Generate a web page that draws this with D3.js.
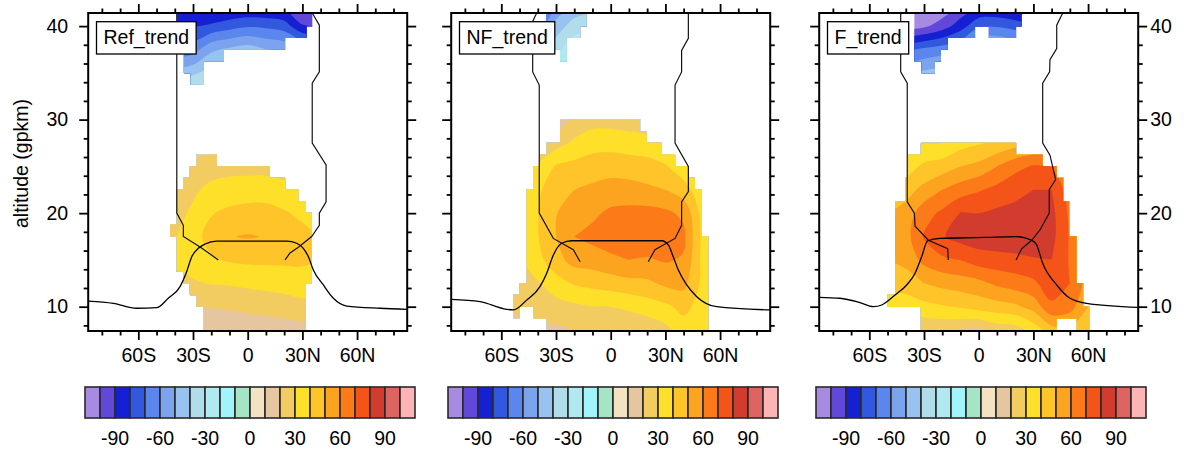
<!DOCTYPE html>
<html><head><meta charset="utf-8">
<script src="https://cdn.jsdelivr.net/npm/d3@7"></script>
<style>
html,body{margin:0;padding:0;background:#fff;}
svg{display:block;}
text{font-family:"Liberation Sans",Arial,Helvetica,sans-serif;}
</style></head><body>
<svg id="chart" width="1194" height="452"></svg>
<script>
const _ = null;
// grid of the trend fields (latitude columns, altitude rows from bottom to top)
const gridLats = [-60,-50,-40,-30,-20,-10,0,10,20,30,40,50,60,70];
const gridAlts = [7.5,10,12.5,15,17.5,20,22.5,25,27.5,30,32.5,35,37.5,40,42.5];

const refTrend = [
 [_, _, 10, 11, 12, 12.5, 13, 14, 15, 16, 17, _, _, _],
 [_, _, 18, 19.5, 20.5, 21.5, 23, 24, 25, 27, 26, _, _, _],
 [_, _, 27, 29, 30.5, 31, 32, 33, 34, 35, 34, _, _, _],
 [_, _, 32, 34, 39, 41, 42, 42, 42, 42, 40, _, _, _],
 [_, _, 29, 37, 43, 49.5, 50.8, 49.5, 46, 43, 40, _, _, _],
 [_, _, 26, 32, 39.5, 42, 43, 43, 41, 38, 35, _, _, _],
 [_, _, 23, 28, 33, 35, 36, 36, 34, 30, 26, _, _, _],
 [_, _, 20, 23, 25, 26, 26, 26, 24, 22, 20, _, _, _],
 [_, _, 14, 14, 16, 20, 21, 20, 18, 16, 15, _, _, _],
 [_, _, _, _, _, _, _, _, _, _, _, _, _, _],
 [_, _, -28, -22, -20, -12, -5, -5, -10, -20, -25, _, _, _],
 [_, _, -45, -42, -36, -30, -25, -25, -30, -38, -42, _, _, _],
 [_, _, -68, -65, -52, -48, -45, -50, -52, -58, -62, _, _, _],
 [_, _, -83, -81, -78, -74, -71, -72, -75, -89, -90, _, _, _],
 [_, _, -95, -95, -97, -96, -95, -95, -96, -104, -104, _, _, _]
];
const nfTrend = [
 [15, 17, 18, 18, 20.5, 20, 21, 22, 23, 27, 35, 32, 28, _],
 [18, 22, 24, 26, 28, 30, 30, 32, 35, 38, 43, 36, 30, _],
 [20, 25, 29, 36, 41, 43, 45, 47, 48, 52, 53, 38, 31, _],
 [24, 29, 37, 46, 54, 55, 58, 60, 59, 61, 59, 38, 31, _],
 [26, 31, 39.5, 50, 60, 63, 65, 66, 67, 67, 62, 38, 31, _],
 [25, 31, 39.5, 49.5, 56, 58, 62, 63, 63.5, 62, 58, 37, 30, _],
 [22, 29, 38.5, 45, 50, 52, 54, 54, 52, 50, 44, 34, 28, _],
 [_, 26, 31, 41, 43, 45, 46, 45, 44, 41, 34, 30, _, _],
 [_, _, 24, 26, 32, 36, 36, 35, 34, 30, 24, _, _, _],
 [_, _, 15, 13, 22, 26, 26, 25, 23, 20, _, _, _, _],
 [_, _, _, _, _, _, _, _, _, _, _, _, _, _],
 [_, _, -25, -18, -12, -8, -5, _, _, _, _, _, _, _],
 [_, _, -45, -33, -22, -18, -15, _, _, _, _, _, _, _],
 [_, _, -68, -46, -35, -32, -25, _, _, _, _, _, _, _],
 [_, _, -85, -60, -50, -45, -35, _, _, _, _, _, _, _]
];
const fTrend = [
 [18, 22, 22, 22, 22, 20, 18, 24, 25, 34, 46, 48, 42, 35],
 [25, 32, 34, 37, 39, 41, 44, 46, 48, 54, 68, 64, 50, 40],
 [32, 43, 45, 50, 53, 55, 57, 62, 65, 68, 76, 70, 56, 43],
 [38, 50, 53, 63, 68, 70, 75, 76, 77, 79, 80, 69, 58, 44],
 [40, 52, 56, 71, 79, 84, 86, 87, 88, 88, 83, 69, 57, 44],
 [38, 50, 54, 66, 72, 80.5, 80, 82, 83, 85, 83, 68, 55, _],
 [32, 42, 46, 53, 60, 65, 69, 73, 77, 80, 80, 65, 52, _],
 [_, 32, 35, 42, 45, 50, 53, 60, 67, 71, 70, 58, _, _],
 [_, _, 25, 30, 30, 36, 39, 42, 46, 50, 52, _, _, _],
 [_, _, _, 20, 22, 26, 28, 30, 32, 32, _, _, _, _],
 [_, _, -32, -30, -28, -22, -20, -20, -22, -25, -28, _, _, _],
 [_, _, -52, -48, -45, -40, -25, -25, -28, -35, -40, _, _, _],
 [_, _, -72, -68, -65, -60, -45, -45, -50, -55, -60, _, _, _],
 [_, _, -105, -102, -95, -85, -72, -71, -74, -78, -80, _, _, _],
 [_, _, -125, -120, -110, -100, -95, -95, -98, -100, -100, _, _, _]
];

// regions where the trend is shown: [altLow, altHigh, latLow, latHigh]
const refMask = [
 [40,41.5,-38.6,35.4],[38.75,40,-35,32.4],[37.5,38.75,-35,20.5],[36.25,37.5,-35,-13],
 [35,36.25,-35,-24],[33.75,35,-31.3,-24],
 [25,26.25,-28,-17],[23.75,25,-31.7,12.2],[22.5,23.75,-35.3,20.5],[21.25,22.5,-38.9,27.8],
 [20,21.25,-38.9,32],[18.75,20,-38.9,35.1],[17.5,18.75,-42.6,35.1],[13.75,17.5,-38.9,35.1],
 [12.5,13.75,-35.3,35.1],[11.25,12.5,-31.7,32],[10,11.25,-28,32],[7,10,-24.4,32]
];
const nfMask = [
 [40,41.5,-35.5,-13.2],[38.75,40,-34,-16.8],[37.5,38.75,-30.6,-24.1],[36.25,37.5,-27.8,-24.1],
 [28.75,30,-27.8,16.1],[27.5,28.75,-27.8,19.7],[26.25,27.5,-35.1,28],[25,26.25,-38.8,35.3],
 [23.75,25,-42.5,42.6],[22.5,23.75,-42.5,46.2],[17.5,22.5,-46.1,49.9],[12.5,17.5,-46.1,53.5],
 [11.25,12.5,-49.8,53.5],[10,11.25,-53.4,53.5],[8.75,10,-53.4,-49.8],[8.75,10,-42.5,53.5],
 [7,8.75,-35.1,53.5]
];
const fMask = [
 [40,41.5,-35.3,23.6],[38.75,40,-35.3,-2],[38.75,40,5.6,20.5],[37.5,38.75,-35.3,-17],
 [36.25,37.5,-35.3,-20.7],[35,36.25,-31.3,-24],
 [26.25,27.5,-31.7,20.5],[25,26.25,-38.6,35.1],[23.75,25,-38.6,42.8],[21.25,23.75,-40,46.4],
 [17.5,21.25,-45.9,49.7],[12.5,17.5,-45.9,53.7],[11.25,12.5,-45.9,57.4],[10,11.25,-50.1,57.4],
 [8.75,10,-31.8,61],[7,8.75,-31.8,42.8],[7,8.75,53.8,61]
];

// overlaid lines: [lat, altitude]
const refTropo = [[-87.5,10.6],[-73.7,10.36],[-60.9,9.83],[-49.9,9.89],[-43.6,10.9],[-37.1,12.14],[-33.8,13.57],[-30.7,15.34],[-27.1,16.24],[-23.4,16.7],[-17,17.02],[21.4,17.02],[26.9,16.78],[30.5,16.24],[33.3,15.34],[36,13.92],[41.5,12.32],[47,10.9],[54.3,10.07],[72.6,9.83],[87.5,9.72]];
const refLeft = [[-38.9,41.4],[-38.9,20.0],[-35.3,18.7],[-35.3,17.5],[-25.5,16.3],[-16.1,15.0]];
const refRight = [[35.4,41.4],[39.3,40.1],[39.3,35.1],[35.4,33.9],[35.4,27.5],[43,25.15],[43,21.2],[39.3,20.0],[39.3,18.7],[35.1,17.5],[27.8,16.35],[23.2,15.75],[20.5,15.0]];
const nfTropo = [[-87.5,10.79],[-71.7,10.54],[-57.1,9.72],[-53.4,9.65],[-46.1,10.7],[-38.8,12.14],[-35.1,13.57],[-31.5,15.5],[-26.9,16.78],[-21.4,17.05],[28,17.05],[31.6,16.6],[34.3,15.34],[37.1,13.92],[41.7,12.32],[47.2,11.07],[58.1,10.0],[87.5,9.65]];
const nfLeft = [[-40.6,41.4],[-42.8,40.5],[-42.8,35.1],[-39.2,33.7],[-39.2,20.0],[-31.5,17.3],[-20.5,16.1],[-16.8,14.8]];
const nfRight = [[42.6,41.4],[42.6,38.7],[38.9,37.4],[38.9,35.1],[35.3,33.7],[35.3,27.5],[42.6,25.0],[42.6,22.3],[38.9,21.2],[38.9,18.7],[35.3,17.3],[24.3,16.1],[20.6,14.8]];
const fTropo = [[-87.5,11.0],[-76.1,10.9],[-65.1,10.43],[-57.8,10.0],[-53.2,10.18],[-45.9,11.25],[-39.5,12.32],[-34.9,13.57],[-31.3,15.34],[-28,17.05],[-21.2,17.3],[2.5,17.4],[20.8,17.5],[29.1,17.1],[31.8,16.6],[35.1,14.64],[42.8,12.32],[50.1,10.9],[59.2,10.36],[87.5,9.93]];
const fLeft = [[-42.8,41.4],[-42.8,35.1],[-39.2,33.9],[-39.2,21.2],[-35.3,20.0],[-34.9,18.6],[-27.6,17.1],[-17,16.2],[-16.7,15.0]];
const fRight = [[46.1,41.4],[42.8,40.1],[42.8,37.6],[39.1,36.4],[38.9,35.1],[35.1,33.9],[35.1,27.5],[39.1,26.2],[42.2,23.6],[38.7,22.5],[38.7,20.0],[33.6,18.2],[29.1,17.1],[23.6,16.2],[20.5,15.0]];

const panelNames = ["Ref_trend","NF_trend","F_trend"];
const contourLevels = [-100,-90,-80,-70,-60,-50,-40,-30,-20,-10,0,10,20,30,40,50,60,70,80,90,100];
const latTicks = [-60,-30,0,30,60];
const latTickLabels = ["60S","30S","0","30N","60N"];
const latMinor = [-80,-70,-50,-40,-20,-10,10,20,40,50,70,80];
const altTicks = [10,20,30,40];
const altMinor = [8,12,14,16,18,22,24,26,28,32,34,36,38];
const barTicks = [-90,-60,-30,0,30,60,90];
const barLabels = ["-90","-60","-30","0","30","60","90"];

const palette = ["#a78be3","#6248d8","#1420d2","#3358e0","#5b86ee","#7ba3ee","#98c3f0","#b0dde9","#b0eaf0","#a2f4fb","#a6e4c6","#f3e3c3","#e6c69e","#f2cc60","#fee02a","#fec42a","#fca420","#fc7a18","#f45418","#d23c2e","#de6462","#feb4b4"];

const svg = d3.select("#chart");
svg.append("rect").attr("width",1194).attr("height",452).attr("fill","#fff");
const defs = svg.append("defs");
const FONT = 19.5;
const plotTop = 13, plotBottom = 331, plotW = 319;
const panelLefts = [88.2, 451.2, 819.2];
const y = d3.scaleLinear().domain([7.4, 41.4]).range([plotBottom, plotTop]);

function fillGrid(rows) {
  const n = gridLats.length, m = gridAlts.length;
  let g = [];
  for (let j = 0; j < m; j++) for (let i = 0; i < n; i++) g.push(rows[j][i]);
  let guard = 0;
  while (g.some(v => v == null) && guard++ < 200) {
    const ng = g.slice();
    for (let j = 0; j < m; j++) for (let i = 0; i < n; i++) {
      const k = j*n + i; if (g[k] != null) continue;
      let s = 0, c = 0;
      [[1,0],[-1,0],[0,1],[0,-1]].forEach(([di,dj]) => {
        const ii = i+di, jj = j+dj;
        if (ii>=0 && ii<n && jj>=0 && jj<m && g[jj*n+ii] != null) { s += g[jj*n+ii]; c++; }
      });
      if (c) ng[k] = s/c;
    }
    g = ng;
  }
  return g;
}

function drawField(g, rows, x) {
  const n = gridLats.length, m = gridAlts.length;
  const values = fillGrid(rows);
  const dLat = gridLats[1]-gridLats[0], dAlt = gridAlts[1]-gridAlts[0];
  const px = cx => x(gridLats[0] + (cx-0.5)*dLat);
  const py = cy => y(gridAlts[0] + (cy-0.5)*dAlt);
  g.append("rect").attr("x", px(0)).attr("y", py(m)).attr("width", px(n)-px(0))
    .attr("height", py(0)-py(m)).attr("fill", palette[0]);
  const cs = d3.contours().size([n, m]).thresholds(contourLevels)(values);
  const line = d3.line().curve(d3.curveCatmullRomClosed.alpha(0.5));
  cs.forEach(c => {
    const k = contourLevels.indexOf(c.value) + 1;
    let d = "";
    c.coordinates.forEach(poly => poly.forEach(ring => {
      const pts = ring.slice(0, -1).map(([cx, cy]) => [px(cx), py(cy)]);
      if (pts.length > 2) d += line(pts);
    }));
    if (d) g.append("path").attr("d", d).attr("fill", palette[k]).attr("fill-rule", "evenodd");
  });
}

const panels = [
  {grid: refTrend, mask: refMask, tropo: refTropo, left: refLeft, right: refRight},
  {grid: nfTrend, mask: nfMask, tropo: nfTropo, left: nfLeft, right: nfRight},
  {grid: fTrend, mask: fMask, tropo: fTropo, left: fLeft, right: fRight}
];

panels.forEach((p, pi) => {
  const x0 = panelLefts[pi];
  const x = d3.scaleLinear().domain([-87.5, 87.5]).range([x0, x0 + plotW]);
  defs.append("clipPath").attr("id", "plot"+pi).append("rect")
    .attr("x", x0).attr("y", plotTop).attr("width", plotW).attr("height", plotBottom-plotTop);
  defs.append("clipPath").attr("id", "mask"+pi).selectAll("rect").data(p.mask).join("rect")
    .attr("x", d => x(d[2])).attr("width", d => x(d[3]) - x(d[2]))
    .attr("y", d => y(d[1]) - 0.3).attr("height", d => y(d[0]) - y(d[1]) + 0.6);

  const outer = svg.append("g").attr("clip-path", `url(#plot${pi})`);
  const field = outer.append("g").attr("clip-path", `url(#mask${pi})`);
  drawField(field, p.grid, x);

  const lin = d3.line().x(d => x(d[0])).y(d => y(d[1]));
  const smooth = d3.line().x(d => x(d[0])).y(d => y(d[1])).curve(d3.curveMonotoneX);
  outer.append("path").attr("d", smooth(p.tropo)).attr("fill","none").attr("stroke","#000").attr("stroke-width",1.3);
  outer.append("path").attr("d", lin(p.left)).attr("fill","none").attr("stroke","#111").attr("stroke-width",1.2);
  outer.append("path").attr("d", lin(p.right)).attr("fill","none").attr("stroke","#111").attr("stroke-width",1.2);

  svg.append("rect").attr("x", x0).attr("y", plotTop).attr("width", plotW).attr("height", plotBottom-plotTop)
    .attr("fill","none").attr("stroke","#000").attr("stroke-width",2);

  const styleAxis = g => {
    g.select(".domain").remove();
    g.selectAll("line").attr("stroke","#000").attr("stroke-width",1.8);
    g.selectAll("text").attr("font-size", FONT).attr("font-family", '"Liberation Sans",Arial,sans-serif').attr("fill","#000");
  };
  svg.append("g").attr("transform", `translate(0,${plotBottom})`)
    .call(d3.axisBottom(x).tickValues(latTicks).tickSize(9).tickPadding(8)
      .tickFormat((d,i) => latTickLabels[i])).call(styleAxis);
  svg.append("g").attr("transform", `translate(0,${plotBottom})`)
    .call(d3.axisBottom(x).tickValues(latMinor).tickSize(4.5).tickFormat("")).call(styleAxis);
  svg.append("g").attr("transform", `translate(0,${plotTop})`)
    .call(d3.axisTop(x).tickValues(latTicks).tickSize(9).tickFormat("")).call(styleAxis);
  svg.append("g").attr("transform", `translate(0,${plotTop})`)
    .call(d3.axisTop(x).tickValues(latMinor).tickSize(4.5).tickFormat("")).call(styleAxis);
  svg.append("g").attr("transform", `translate(${x0},0)`)
    .call(d3.axisLeft(y).tickValues(altTicks).tickSize(9).tickPadding(11)
      .tickFormat(pi === 0 ? d3.format("d") : "")).call(styleAxis);
  svg.append("g").attr("transform", `translate(${x0},0)`)
    .call(d3.axisLeft(y).tickValues(altMinor).tickSize(4.5).tickFormat("")).call(styleAxis);
  svg.append("g").attr("transform", `translate(${x0+plotW},0)`)
    .call(d3.axisRight(y).tickValues(altTicks).tickSize(9).tickPadding(3)
      .tickFormat(pi === 2 ? d3.format("d") : "")).call(styleAxis);
  svg.append("g").attr("transform", `translate(${x0+plotW},0)`)
    .call(d3.axisRight(y).tickValues(altMinor).tickSize(4.5).tickFormat("")).call(styleAxis);

  const bx = x0 + 8.3, by = 21.7;
  const box = svg.append("rect").attr("x", bx).attr("y", by).attr("height", 32.3)
    .attr("fill","#fff").attr("stroke","#000").attr("stroke-width",1.3);
  const t = svg.append("text").attr("x", bx + 7).attr("y", by + 21.8)
    .attr("font-size", FONT).attr("fill","#000").text(panelNames[pi]);
  box.attr("width", t.node().getComputedTextLength() + 14);

  const cbLeft = x0 - 3.2, cbW = 330, cbTop = 387, cbH = 31;
  const cb = d3.scaleLinear().domain([-110, 110]).range([cbLeft, cbLeft + cbW]);
  const cbg = svg.append("g");
  cbg.selectAll("rect").data(palette).join("rect")
    .attr("x", (c,k) => cb(-110 + 10*k)).attr("y", cbTop)
    .attr("width", (c,k) => cb(-100 + 10*k) - cb(-110 + 10*k)).attr("height", cbH)
    .attr("fill", c => c).attr("stroke", "#2a2a2a").attr("stroke-width", 1.6);
  cbg.selectAll("text").data(barTicks).join("text")
    .attr("x", d => cb(d)).attr("y", 445).attr("text-anchor","middle")
    .attr("font-size", FONT).attr("fill","#000").text((d,i) => barLabels[i]);
});

svg.append("text").attr("transform","translate(28,163.5) rotate(-90)")
  .attr("text-anchor","middle").attr("font-size", FONT).attr("fill","#000").text("altitude (gpkm)");
</script>
</body></html>
